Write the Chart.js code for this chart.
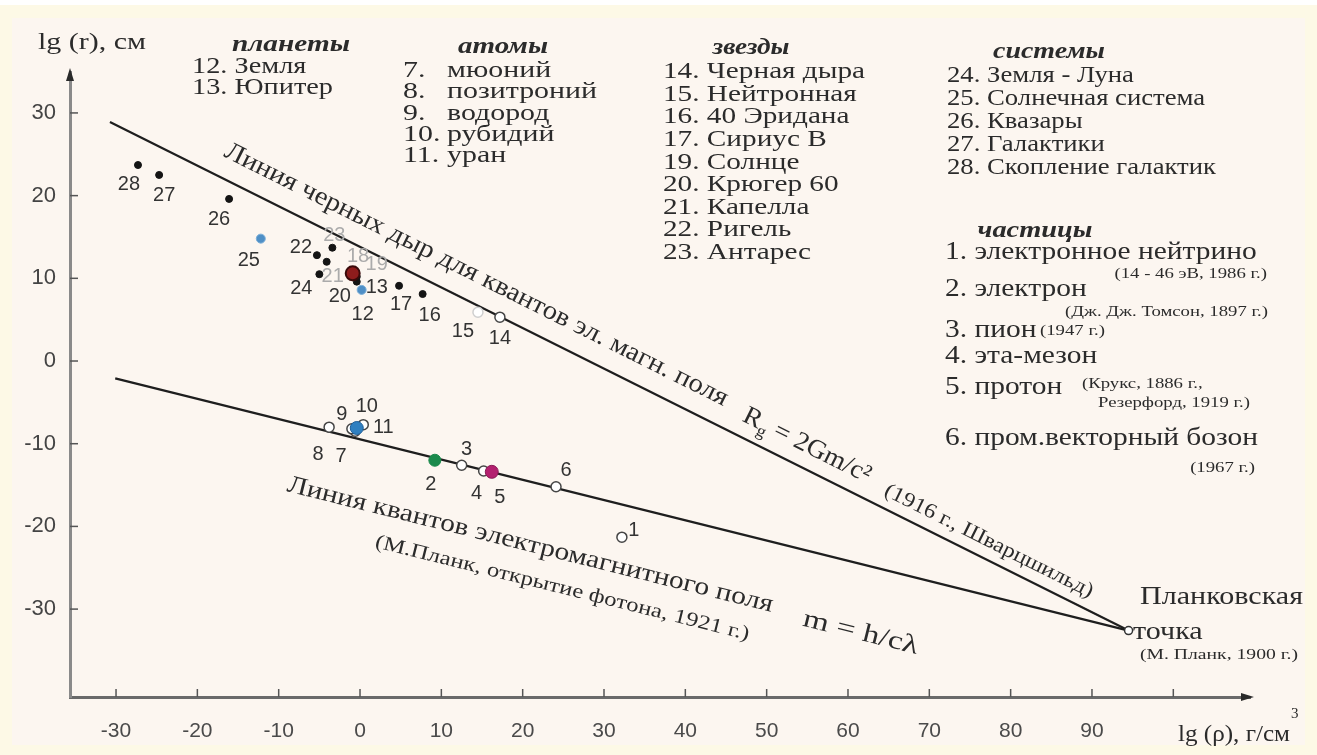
<!DOCTYPE html>
<html>
<head>
<meta charset="utf-8">
<script src="https://cdn.jsdelivr.net/npm/chart.js@4.4.0/dist/chart.umd.min.js"></script>
<style>
    html, body { margin: 0; padding: 0; background: #fdf9e8; }
    #wrap { width: 1317px; height: 755px; }
</style>
</head>
<body>
<div id="wrap"><canvas id="chart" width="1317" height="755"></canvas></div>
<script>
// axis ticks
const xTicks = [-30, -20, -10, 0, 10, 20, 30, 40, 50, 60, 70, 80, 90, 100];
const yTicks = [30, 20, 10, 0, -10, -20, -30];

// lines: lg(rho), lg(r)
const planckPoint = [94.5, -32.6];
const blackHoleStart = [-30.75, 28.9];
const quantumStart = [-30.1, -2.1];

// objects
const pointIds  = ['1', '2', '3', '4', '5', '6', '7', '8', '9', '10', '11', '12', '13', '14',
                   '15', '16', '17', '18', '19', '20', '21', '22', '23', '24', '25', '26', '27', '28'];
const pointRho  = [32.2, 9.2, 12.5, 15.2, 16.2, 24.1, -0.6, -3.8, -1.0, -0.4, 0.4, 0.2, -0.4, 17.2,
                   14.5, 7.7, 4.8, -1.1, -0.9, -0.4, -4.1, -5.3, -3.4, -5.0, -12.2, -16.1, -24.7, -27.3];
const pointR    = [-21.3, -12.0, -12.6, -13.3, -13.4, -15.2, -8.5, -8.0, -8.2, -8.1, -7.7, 8.6, 9.6, 5.3,
                   5.9, 8.1, 9.1, 11.0, 10.6, 10.2, 12.0, 12.8, 13.7, 10.5, 14.8, 19.6, 22.5, 23.7];
const pointKind = ['open', 'green', 'open', 'open', 'magenta', 'open', 'open', 'open', 'open', 'bigblue', 'open', 'blue', 'black', 'open',
                   'faint', 'black', 'black', 'black', 'red', 'black', 'black', 'black', 'black', 'black', 'blue', 'black', 'black', 'black'];

// legend texts
const legendPlanets = ['12. Земля', '13. Юпитер'];
const legendAtomNums = ['7.', '8.', '9.', '10.', '11.'];
const legendAtomNames = ['мюоний', 'позитроний', 'водород', 'рубидий', 'уран'];
const legendStars = ['14. Черная дыра', '15. Нейтронная', '16. 40 Эридана', '17. Сириус В', '19. Солнце',
                     '20. Крюгер 60', '21. Капелла', '22. Ригель', '23. Антарес'];
const legendSystems = ['24. Земля - Луна', '25. Солнечная система', '26. Квазары', '27. Галактики', '28. Скопление галактик'];
const legendParticles = ['1. электронное нейтрино', '2. электрон', '3. пион', '4. эта-мезон', '5. протон', '6. пром.векторный бозон'];

const SERIF = "'Liberation Serif', 'DejaVu Serif', serif";
const SANS = "'Liberation Sans', Arial, sans-serif";
const INK = '#2b2b2b';

const kindStyle = {
    red:     { bg: '#8e1c1c', border: '#3a0a0a', r: 7,   w: 2 },
    bigblue: { bg: '#2f7fc0', border: '#1f5f9a', r: 6.5, w: 1 },
    green:   { bg: '#1b8a4c', border: '#1b8a4c', r: 6,   w: 1 },
    magenta: { bg: '#b3206f', border: '#8a1a55', r: 6.5, w: 1 },
    blue:    { bg: '#4f8fc6', border: '#7aaed8', r: 4.5, w: 1 },
    black:   { bg: '#141414', border: '#141414', r: 3.5, w: 1 },
    open:    { bg: '#ffffff', border: '#454545', r: 5,   w: 1.5 },
    faint:   { bg: '#ffffff', border: '#cfcfcf', r: 5,   w: 1.5 }
};
const kindOrder = ['red', 'bigblue', 'green', 'magenta', 'blue', 'black', 'open', 'faint'];

// label placement around the points (label centre minus point, px)
const labelOffset = {
    '1': [12, -7], '2': [-4, 24], '3': [5, -16], '4': [-7, 22], '5': [8, 26], '6': [10, -16],
    '7': [-14, 25], '8': [-11, 27], '9': [-10, -14], '10': [10, -22], '11': [20, 3],
    '12': [1, 25], '13': [20, 6], '14': [0, 21], '15': [-15, 19], '16': [7, 21], '17': [2, 19],
    '18': [7, -14], '19': [24, -9], '20': [-17, 20], '21': [6, 15], '22': [-16, -8], '23': [2, -12],
    '24': [-18, 14], '25': [-12, 22], '26': [-10, 21], '27': [5, 21], '28': [-9, 19]
};
const faintLabels = ['18', '19', '21', '23'];

const datasets = kindOrder.map(kind => {
    const st = kindStyle[kind];
    const data = [];
    pointIds.forEach((id, i) => {
        if (pointKind[i] === kind) data.push({ x: pointRho[i], y: pointR[i] });
    });
    return {
        type: 'scatter',
        data: data,
        backgroundColor: st.bg,
        borderColor: st.border,
        borderWidth: st.w,
        pointRadius: st.r
    };
});
datasets.push({
    type: 'scatter',
    data: [{ x: planckPoint[0], y: planckPoint[1] }],
    backgroundColor: '#ffffff',
    borderColor: '#333',
    borderWidth: 1.5,
    pointRadius: 4
});
[blackHoleStart, quantumStart].forEach(start => {
    datasets.push({
        type: 'line',
        data: [{ x: start[0], y: start[1] }, { x: planckPoint[0], y: planckPoint[1] }],
        borderColor: '#1e1e1e',
        borderWidth: 2.2,
        pointRadius: 0,
        fill: false
    });
});

function stretchText(ctx, text, x, y, k, align) {
    const w = ctx.measureText(text).width * k;
    let x0 = x;
    if (align === 'center') x0 = x - w / 2;
    if (align === 'right') x0 = x - w;
    ctx.save();
    ctx.textAlign = 'left';
    ctx.translate(x0, y);
    ctx.scale(k, 1);
    ctx.fillText(text, 0, 0);
    ctx.restore();
    return x0 + w;
}

function fitText(ctx, text, x, y, width, align) {
    ctx.textAlign = 'left';
    const k = width / ctx.measureText(text).width;
    return stretchText(ctx, text, x, y, k, align);
}

function blockScale(ctx, lines, width) {
    ctx.textAlign = 'left';
    const widest = Math.max(...lines.map(l => ctx.measureText(l).width));
    return width / widest;
}

function alongLine(ctx, a, b, s, d, runs, width) {
    const ang = Math.atan2(b.y - a.y, b.x - a.x);
    const ux = Math.cos(ang), uy = Math.sin(ang);
    const px = a.x + s * ux - d * uy;
    const py = a.y + s * uy + d * ux;
    ctx.save();
    ctx.textAlign = 'left';
    ctx.textBaseline = 'alphabetic';
    let natural = 0;
    runs.forEach(r => { ctx.font = r.font; natural += ctx.measureText(r.text).width; });
    ctx.translate(px, py);
    ctx.rotate(ang);
    ctx.scale(width / natural, 1);
    let x = 0;
    runs.forEach(r => {
        ctx.font = r.font;
        ctx.fillText(r.text, x, r.dy || 0);
        x += ctx.measureText(r.text).width;
    });
    ctx.restore();
}

const backgroundPlugin = {
    id: 'background',
    beforeDraw(chart) {
        const ctx = chart.ctx;
        ctx.save();
        ctx.fillStyle = '#fdf9e6';
        ctx.fillRect(0, 0, chart.width, chart.height);
        ctx.fillStyle = '#ffffff';
        ctx.fillRect(0, 0, chart.width, 5);
        ctx.fillStyle = '#fcf6f0';
        ctx.fillRect(12, 18, chart.width - 24, chart.height - 28);
        ctx.restore();
    }
};

const axesPlugin = {
    id: 'axesDecor',
    afterDraw(chart) {
        const ctx = chart.ctx;
        const area = chart.chartArea;
        const xs = chart.scales.x, ys = chart.scales.y;
        ctx.save();
        ctx.strokeStyle = '#555';
        ctx.lineWidth = 1.5;
        xTicks.forEach(v => {
            const px = xs.getPixelForValue(v);
            ctx.beginPath();
            ctx.moveTo(px, area.bottom);
            ctx.lineTo(px, area.bottom - 8);
            ctx.stroke();
        });
        yTicks.forEach(v => {
            const py = ys.getPixelForValue(v);
            ctx.beginPath();
            ctx.moveTo(area.left, py);
            ctx.lineTo(area.left + 8, py);
            ctx.stroke();
        });
        ctx.fillStyle = '#2a2a2a';
        ctx.beginPath();
        ctx.moveTo(area.left, area.top - 4);
        ctx.lineTo(area.left - 4, area.top + 9);
        ctx.lineTo(area.left + 4, area.top + 9);
        ctx.closePath();
        ctx.fill();
        ctx.beginPath();
        ctx.moveTo(area.right + 4, area.bottom);
        ctx.lineTo(area.right - 9, area.bottom - 4);
        ctx.lineTo(area.right - 9, area.bottom + 4);
        ctx.closePath();
        ctx.fill();
        ctx.restore();
    }
};

const labelsPlugin = {
    id: 'pointLabels',
    afterDatasetsDraw(chart) {
        const ctx = chart.ctx;
        const xs = chart.scales.x, ys = chart.scales.y;
        ctx.save();
        ctx.font = '20px ' + SANS;
        ctx.textAlign = 'center';
        ctx.textBaseline = 'middle';
        pointIds.forEach((id, i) => {
            const off = labelOffset[id];
            ctx.fillStyle = faintLabels.includes(id) ? '#ababab' : '#333';
            ctx.fillText(id, xs.getPixelForValue(pointRho[i]) + off[0], ys.getPixelForValue(pointR[i]) + off[1]);
        });
        ctx.restore();
    }
};

const textPlugin = {
    id: 'annotations',
    afterDraw(chart) {
        const ctx = chart.ctx;
        const xs = chart.scales.x, ys = chart.scales.y;
        ctx.save();
        ctx.fillStyle = INK;
        ctx.textBaseline = 'middle';

        // axis titles
        ctx.font = '24px ' + SERIF;
        fitText(ctx, 'lg (r), см', 38, 43, 108, 'left');
        const xEnd = fitText(ctx, 'lg (ρ), г/см', 1178, 735, 112, 'left');
        ctx.font = '15px ' + SERIF;
        ctx.textAlign = 'left';
        ctx.fillText('3', xEnd + 1, 714);

        // headers
        ctx.font = 'bold italic 24px ' + SERIF;
        fitText(ctx, 'планеты', 291, 45, 118, 'center');
        fitText(ctx, 'атомы', 503, 47, 90, 'center');
        fitText(ctx, 'звезды', 751, 48, 77, 'center');
        fitText(ctx, 'системы', 1049, 52, 112, 'center');
        fitText(ctx, 'частицы', 1035, 231, 115, 'center');

        // planets
        ctx.font = '24px ' + SERIF;
        let k = blockScale(ctx, legendPlanets, 141);
        legendPlanets.forEach((t, i) => stretchText(ctx, t, 192, 67 + i * 21, k, 'left'));

        // atoms
        k = blockScale(ctx, legendAtomNames, 150);
        legendAtomNames.forEach((t, i) => {
            stretchText(ctx, legendAtomNums[i], 403, 71 + i * 21.2, k, 'left');
            stretchText(ctx, t, 447, 71 + i * 21.2, k, 'left');
        });

        // stars
        k = blockScale(ctx, legendStars, 202);
        legendStars.forEach((t, i) => stretchText(ctx, t, 663, 72 + i * 22.6, k, 'left'));

        // systems
        k = blockScale(ctx, legendSystems, 269);
        legendSystems.forEach((t, i) => stretchText(ctx, t, 947, 76 + i * 23, k, 'left'));

        // particles
        ctx.font = '26px ' + SERIF;
        k = blockScale(ctx, legendParticles, 313);
        const partY = [252, 289, 330, 356, 387, 438];
        legendParticles.forEach((t, i) => stretchText(ctx, t, 945, partY[i], k, 'left'));

        ctx.font = '15px ' + SERIF;
        k = 203 / ctx.measureText('(Дж. Дж. Томсон, 1897 г.)').width;
        stretchText(ctx, '(14 - 46 эВ, 1986 г.)', 1267, 274, k, 'right');
        stretchText(ctx, '(Дж. Дж. Томсон, 1897 г.)', 1268, 312, k, 'right');
        stretchText(ctx, '(1947 г.)', 1040, 331, k, 'left');
        stretchText(ctx, '(Крукс, 1886 г.,', 1082, 384, k, 'left');
        stretchText(ctx, 'Резерфорд, 1919 г.)', 1250, 403, k, 'right');
        stretchText(ctx, '(1967 г.)', 1255, 468, k, 'right');

        // Planck point
        ctx.font = '25px ' + SERIF;
        fitText(ctx, 'Планковская', 1140, 597, 163, 'left');
        k = 163 / ctx.measureText('Планковская').width;
        stretchText(ctx, 'точка', 1133, 632, k, 'left');
        ctx.font = '15px ' + SERIF;
        fitText(ctx, '(М. Планк, 1900 г.)', 1140, 655, 158, 'left');

        // texts along the lines
        const pl = { x: xs.getPixelForValue(planckPoint[0]), y: ys.getPixelForValue(planckPoint[1]) };
        const bh = { x: xs.getPixelForValue(blackHoleStart[0]), y: ys.getPixelForValue(blackHoleStart[1]) };
        const qu = { x: xs.getPixelForValue(quantumStart[0]), y: ys.getPixelForValue(quantumStart[1]) };

        alongLine(ctx, bh, pl, 116, -20,
            [{ text: 'Линия черных дыр для квантов эл. магн. поля', font: '26px ' + SERIF }], 560);
        alongLine(ctx, bh, pl, 698, -15, [
            { text: 'R', font: '26px ' + SERIF },
            { text: 'g', font: '17px ' + SERIF, dy: 6 },
            { text: ' = 2Gm/c²', font: '26px ' + SERIF }
        ], 140);
        alongLine(ctx, bh, pl, 858, -12,
            [{ text: '(1916 г., Шварцшильд)', font: '21px ' + SERIF }], 231);

        alongLine(ctx, qu, pl, 193, 68,
            [{ text: 'Линия квантов электромагнитного поля', font: '25px ' + SERIF }], 500);
        alongLine(ctx, qu, pl, 726, 74,
            [{ text: 'm = h/cλ', font: '26px ' + SERIF }], 118);
        alongLine(ctx, qu, pl, 292, 101,
            [{ text: '(М.Планк, открытие фотона, 1921 г.)', font: '20px ' + SERIF }], 385);

        ctx.restore();
    }
};

new Chart(document.getElementById('chart'), {
    data: { datasets: datasets },
    options: {
        responsive: false,
        animation: false,
        layout: { padding: { left: 0, right: 67, top: 72, bottom: 0 } },
        plugins: {
            legend: { display: false },
            tooltip: { enabled: false }
        },
        scales: {
            x: {
                type: 'linear',
                min: -35.66,
                max: 109.43,
                afterBuildTicks: scale => { scale.ticks = xTicks.map(v => ({ value: v })); },
                afterFit: scale => { scale.height = 58; },
                grid: { display: false, drawTicks: false },
                border: { display: true, color: '#6a6a6a', width: 3 },
                ticks: {
                    autoSkip: false,
                    maxRotation: 0,
                    padding: 22,
                    color: '#4a4a4a',
                    font: { family: SANS, size: 21 },
                    callback: v => (v === 100 ? '' : v)
                }
            },
            y: {
                type: 'linear',
                min: -40.63,
                max: 34.95,
                afterBuildTicks: scale => { scale.ticks = yTicks.map(v => ({ value: v })); },
                afterFit: scale => { scale.width = 70; },
                grid: { display: false, drawTicks: false },
                border: { display: true, color: '#8a8a8a', width: 3 },
                ticks: {
                    autoSkip: false,
                    padding: 14,
                    color: '#444',
                    font: { family: SANS, size: 22 }
                }
            }
        }
    },
    plugins: [backgroundPlugin, axesPlugin, labelsPlugin, textPlugin]
});
</script>
</body>
</html>
